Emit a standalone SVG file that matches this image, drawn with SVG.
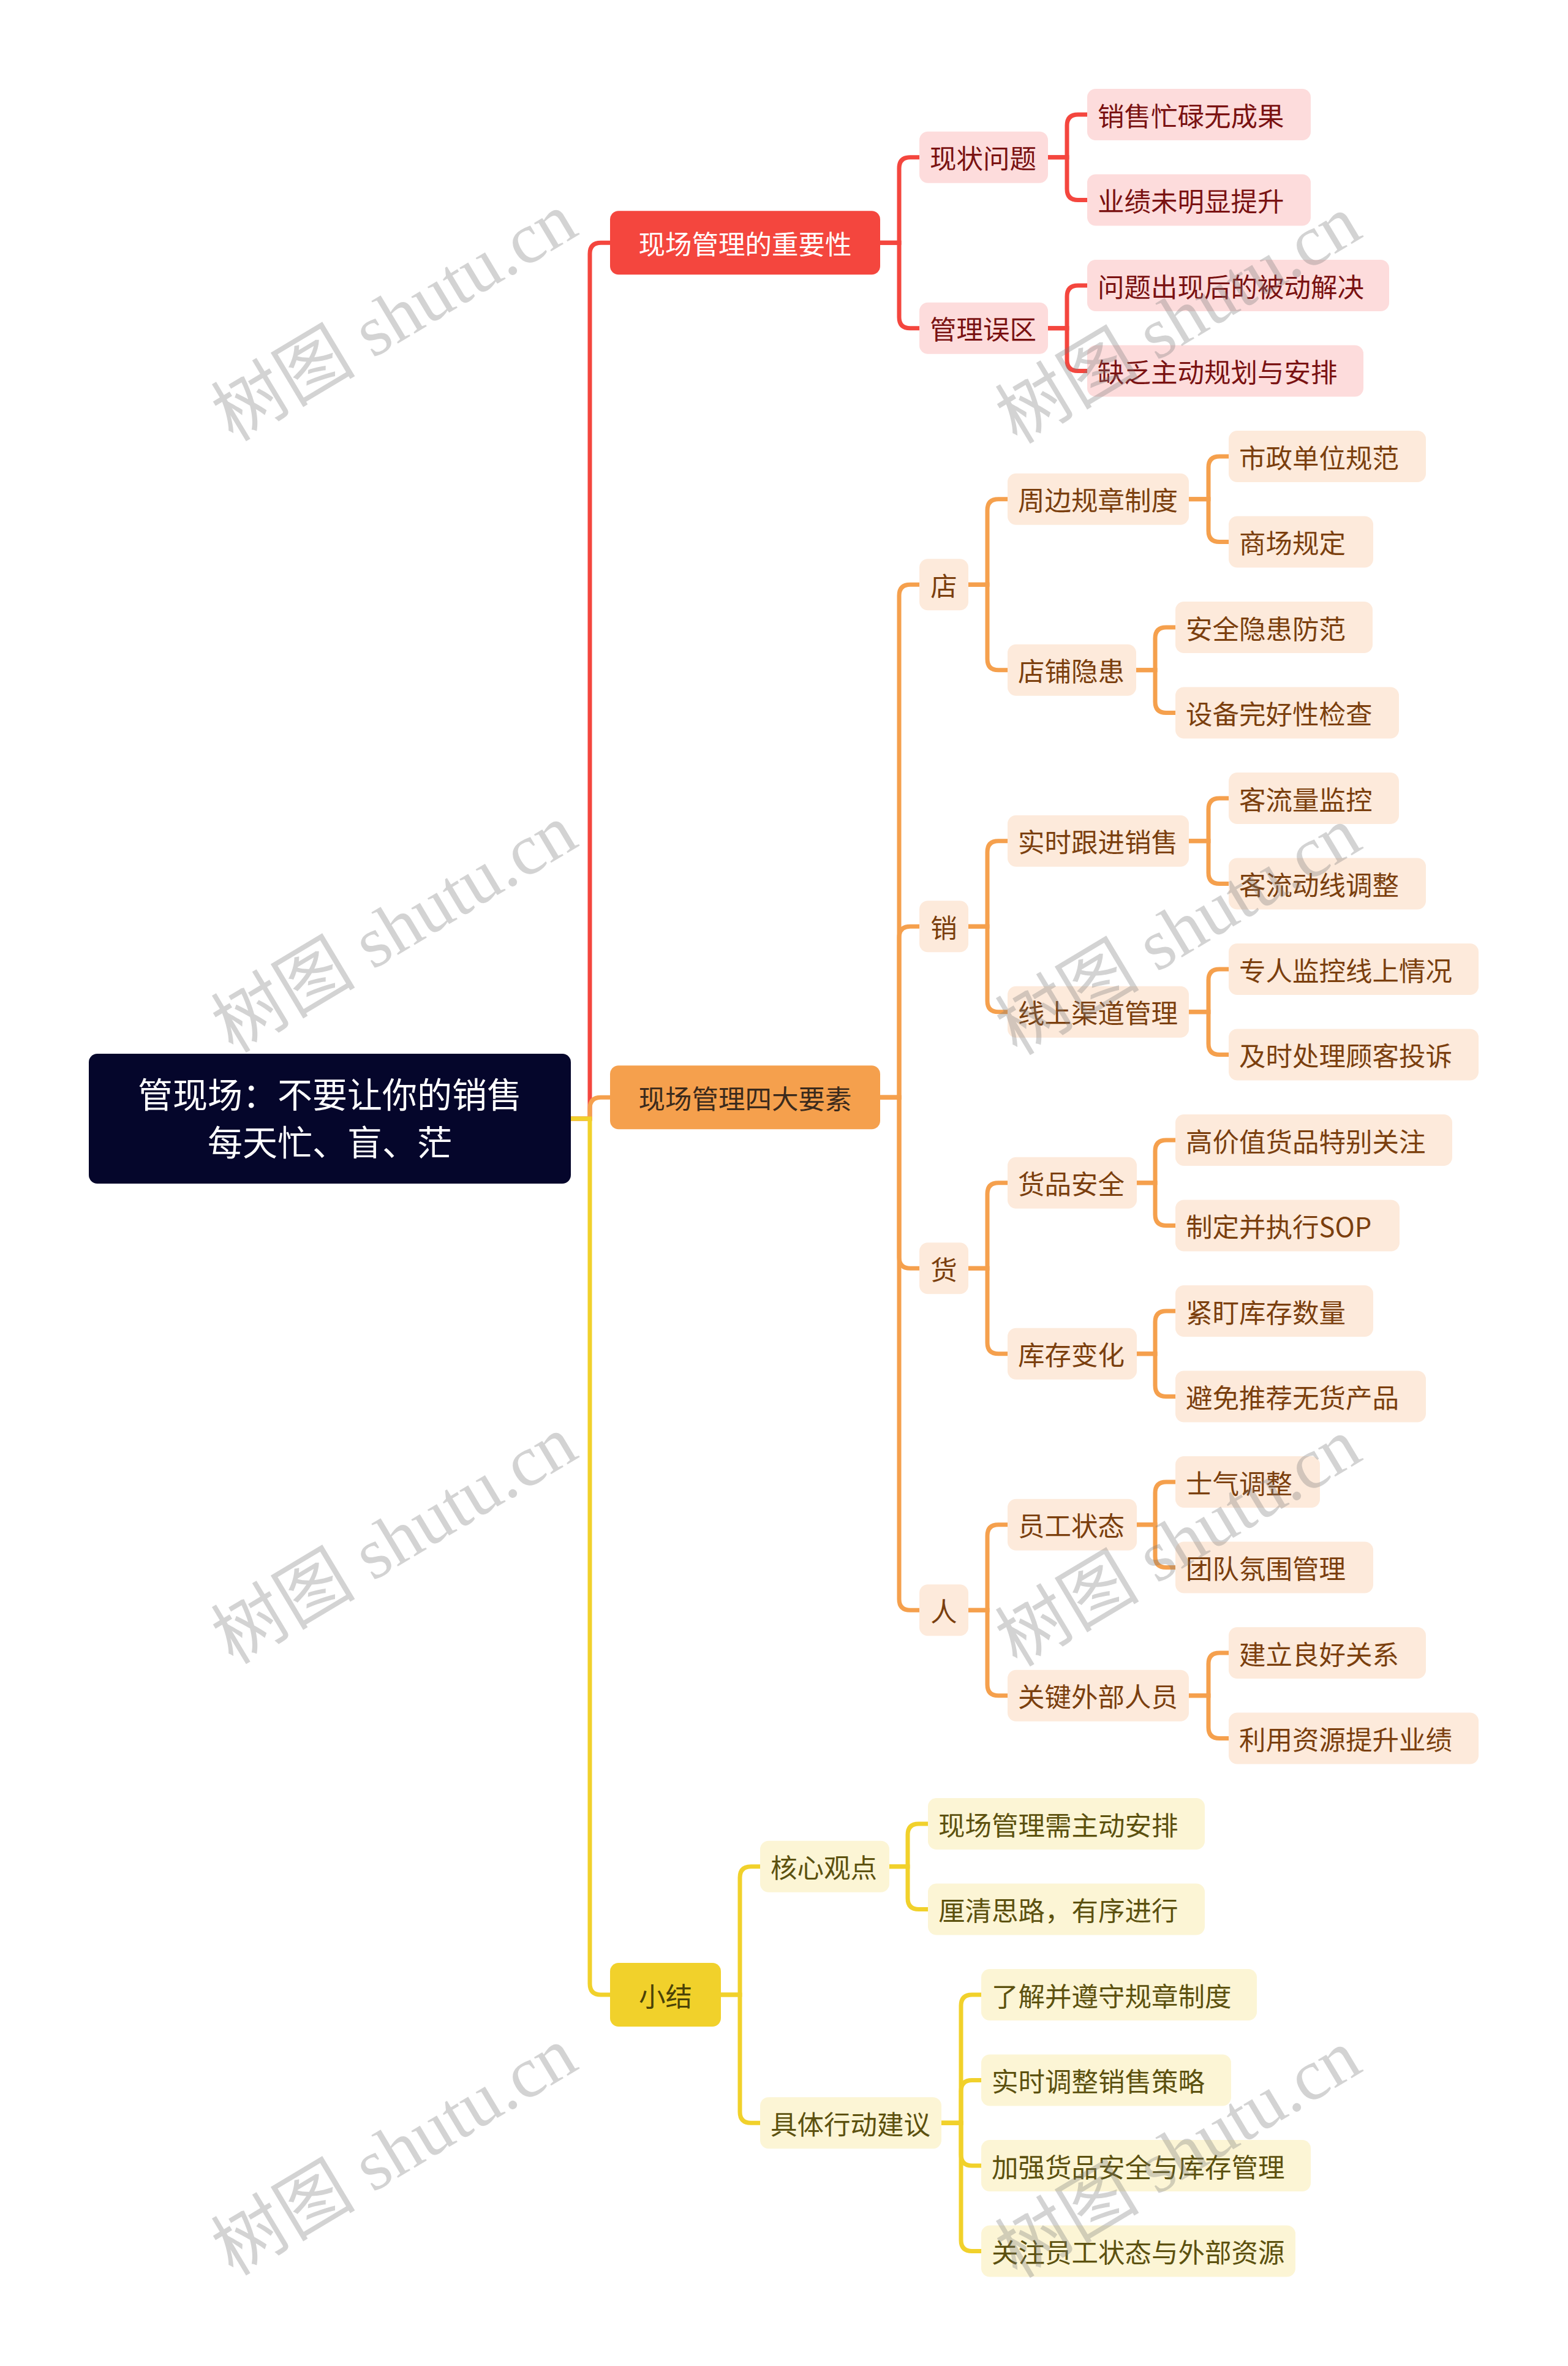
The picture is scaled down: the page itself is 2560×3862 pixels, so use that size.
<svg xmlns="http://www.w3.org/2000/svg" width="2560" height="3862" viewBox="0 0 2560 3862">
<style>
text{font-family:"Noto Sans CJK SC","Noto Sans",sans-serif;font-size:43.5px;dominant-baseline:central}
.root rect{fill:#05062B}
.root text{fill:#FFFFFF;font-size:57px;text-anchor:middle}
.r1 rect{fill:#F4463E}
.r1 text{fill:#FFFFFF;text-anchor:middle}
.r2 rect{fill:#FDDCDC}
.r2 text{fill:#7A1212}
.o1 rect{fill:#F5A04D}
.o1 text{fill:#3B2A1C;text-anchor:middle}
.o2 rect{fill:#FDEADB}
.o2 text{fill:#7B3F0E}
.oc text{text-anchor:middle}
.y1 rect{fill:#F1D12B}
.y1 text{fill:#4B4207;text-anchor:middle}
.y2 rect{fill:#FCF5D5}
.y2 text{fill:#5C510F}
.cr{fill:none;stroke:#F4463E;stroke-width:7}
.co{fill:none;stroke:#F5A04D;stroke-width:7}
.cy{fill:none;stroke:#F1D12B;stroke-width:7}
.wm{font-family:"Liberation Serif","Noto Sans CJK SC",serif;font-size:118px;fill:#7a7a7a;opacity:0.32;text-anchor:middle;dominant-baseline:central}
</style>
<rect x="0" y="0" width="2560" height="3862" fill="#FFFFFF"/>
<g id="connectors">
<path class="cr" d="M932,1826 H963 V414.25 Q963,396.25 981,396.25 H996"/>
<path class="co" d="M932,1826 H963 V1809.25 Q963,1791.25 981,1791.25 H996"/>
<path class="cy" d="M932,1826 H963 V3238 Q963,3256 981,3256 H996"/>
<path class="cr" d="M1437,396.25 H1468 V274.75 Q1468,256.75 1486,256.75 H1501"/>
<path class="cr" d="M1437,396.25 H1468 V517.75 Q1468,535.75 1486,535.75 H1501"/>
<path class="cr" d="M1711,256.75 H1742 V205 Q1742,187 1760,187 H1775"/>
<path class="cr" d="M1711,256.75 H1742 V308.5 Q1742,326.5 1760,326.5 H1775"/>
<path class="cr" d="M1711,535.75 H1742 V484 Q1742,466 1760,466 H1775"/>
<path class="cr" d="M1711,535.75 H1742 V587.5 Q1742,605.5 1760,605.5 H1775"/>
<path class="co" d="M1437,1791.25 H1468 V972.25 Q1468,954.25 1486,954.25 H1501"/>
<path class="co" d="M1437,1791.25 H1468 V1530.25 Q1468,1512.25 1486,1512.25 H1501"/>
<path class="co" d="M1437,1791.25 H1468 V2052.25 Q1468,2070.25 1486,2070.25 H1501"/>
<path class="co" d="M1437,1791.25 H1468 V2610.25 Q1468,2628.25 1486,2628.25 H1501"/>
<path class="co" d="M1581,954.25 H1612 V832.75 Q1612,814.75 1630,814.75 H1645"/>
<path class="co" d="M1581,954.25 H1612 V1075.75 Q1612,1093.75 1630,1093.75 H1645"/>
<path class="co" d="M1941,814.75 H1973 V763 Q1973,745 1991,745 H2006"/>
<path class="co" d="M1941,814.75 H1973 V866.5 Q1973,884.5 1991,884.5 H2006"/>
<path class="co" d="M1855,1093.75 H1886 V1042 Q1886,1024 1904,1024 H1919"/>
<path class="co" d="M1855,1093.75 H1886 V1145.5 Q1886,1163.5 1904,1163.5 H1919"/>
<path class="co" d="M1581,1512.25 H1612 V1390.75 Q1612,1372.75 1630,1372.75 H1645"/>
<path class="co" d="M1581,1512.25 H1612 V1633.75 Q1612,1651.75 1630,1651.75 H1645"/>
<path class="co" d="M1941,1372.75 H1973 V1321 Q1973,1303 1991,1303 H2006"/>
<path class="co" d="M1941,1372.75 H1973 V1424.5 Q1973,1442.5 1991,1442.5 H2006"/>
<path class="co" d="M1941,1651.75 H1973 V1600 Q1973,1582 1991,1582 H2006"/>
<path class="co" d="M1941,1651.75 H1973 V1703.5 Q1973,1721.5 1991,1721.5 H2006"/>
<path class="co" d="M1581,2070.25 H1612 V1948.75 Q1612,1930.75 1630,1930.75 H1645"/>
<path class="co" d="M1581,2070.25 H1612 V2191.75 Q1612,2209.75 1630,2209.75 H1645"/>
<path class="co" d="M1856,1930.75 H1886 V1879 Q1886,1861 1904,1861 H1919"/>
<path class="co" d="M1856,1930.75 H1886 V1982.5 Q1886,2000.5 1904,2000.5 H1919"/>
<path class="co" d="M1856,2209.75 H1886 V2158 Q1886,2140 1904,2140 H1919"/>
<path class="co" d="M1856,2209.75 H1886 V2261.5 Q1886,2279.5 1904,2279.5 H1919"/>
<path class="co" d="M1581,2628.25 H1612 V2506.75 Q1612,2488.75 1630,2488.75 H1645"/>
<path class="co" d="M1581,2628.25 H1612 V2749.75 Q1612,2767.75 1630,2767.75 H1645"/>
<path class="co" d="M1856,2488.75 H1886 V2437 Q1886,2419 1904,2419 H1919"/>
<path class="co" d="M1856,2488.75 H1886 V2540.5 Q1886,2558.5 1904,2558.5 H1919"/>
<path class="co" d="M1941,2767.75 H1973 V2716 Q1973,2698 1991,2698 H2006"/>
<path class="co" d="M1941,2767.75 H1973 V2819.5 Q1973,2837.5 1991,2837.5 H2006"/>
<path class="cy" d="M1177,3256 H1208 V3064.75 Q1208,3046.75 1226,3046.75 H1241"/>
<path class="cy" d="M1177,3256 H1208 V3447.25 Q1208,3465.25 1226,3465.25 H1241"/>
<path class="cy" d="M1452,3046.75 H1482 V2995 Q1482,2977 1500,2977 H1515"/>
<path class="cy" d="M1452,3046.75 H1482 V3098.5 Q1482,3116.5 1500,3116.5 H1515"/>
<path class="cy" d="M1537,3465.25 H1569 V3274 Q1569,3256 1587,3256 H1602"/>
<path class="cy" d="M1537,3465.25 H1569 V3413.5 Q1569,3395.5 1587,3395.5 H1602"/>
<path class="cy" d="M1537,3465.25 H1569 V3517 Q1569,3535 1587,3535 H1602"/>
<path class="cy" d="M1537,3465.25 H1569 V3656.5 Q1569,3674.5 1587,3674.5 H1602"/>
</g>
<g id="root" class="root"><rect x="145" y="1720" width="787" height="212" rx="14"/><text x="538.5" y="1783">管现场：不要让你的销售</text><text x="538.5" y="1861">每天忙、盲、茫</text></g>
<g id="n-importance" class="r1"><rect x="996" y="344.25" width="441" height="104" rx="14"/><text x="1216.5" y="396.25">现场管理的重要性</text></g>
<g id="n-status" class="r2"><rect x="1501" y="214.75" width="210" height="84" rx="14"/><text x="1518" y="256.75">现状问题</text></g>
<g id="n-l0" class="r2"><rect x="1775" y="145" width="365" height="84" rx="14"/><text x="1792" y="187">销售忙碌无成果</text></g>
<g id="n-l1" class="r2"><rect x="1775" y="284.5" width="365" height="84" rx="14"/><text x="1792" y="326.5">业绩未明显提升</text></g>
<g id="n-mistake" class="r2"><rect x="1501" y="493.75" width="210" height="84" rx="14"/><text x="1518" y="535.75">管理误区</text></g>
<g id="n-l2" class="r2"><rect x="1775" y="424" width="493" height="84" rx="14"/><text x="1792" y="466">问题出现后的被动解决</text></g>
<g id="n-l3" class="r2"><rect x="1775" y="563.5" width="451" height="84" rx="14"/><text x="1792" y="605.5">缺乏主动规划与安排</text></g>
<g id="n-four" class="o1"><rect x="996" y="1739.25" width="441" height="104" rx="14"/><text x="1216.5" y="1791.25">现场管理四大要素</text></g>
<g id="n-dian" class="o2 oc"><rect x="1501" y="912.25" width="80" height="84" rx="14"/><text x="1541" y="954.25">店</text></g>
<g id="n-zhoubian" class="o2"><rect x="1645" y="772.75" width="296" height="84" rx="14"/><text x="1662" y="814.75">周边规章制度</text></g>
<g id="n-l4" class="o2"><rect x="2006" y="703" width="322" height="84" rx="14"/><text x="2023" y="745">市政单位规范</text></g>
<g id="n-l5" class="o2"><rect x="2006" y="842.5" width="236" height="84" rx="14"/><text x="2023" y="884.5">商场规定</text></g>
<g id="n-yinhuan" class="o2"><rect x="1645" y="1051.75" width="210" height="84" rx="14"/><text x="1662" y="1093.75">店铺隐患</text></g>
<g id="n-l6" class="o2"><rect x="1919" y="982" width="322" height="84" rx="14"/><text x="1936" y="1024">安全隐患防范</text></g>
<g id="n-l7" class="o2"><rect x="1919" y="1121.5" width="365" height="84" rx="14"/><text x="1936" y="1163.5">设备完好性检查</text></g>
<g id="n-xiao" class="o2 oc"><rect x="1501" y="1470.25" width="80" height="84" rx="14"/><text x="1541" y="1512.25">销</text></g>
<g id="n-shishi" class="o2"><rect x="1645" y="1330.75" width="296" height="84" rx="14"/><text x="1662" y="1372.75">实时跟进销售</text></g>
<g id="n-l8" class="o2"><rect x="2006" y="1261" width="278" height="84" rx="14"/><text x="2023" y="1303">客流量监控</text></g>
<g id="n-l9" class="o2"><rect x="2006" y="1400.5" width="322" height="84" rx="14"/><text x="2023" y="1442.5">客流动线调整</text></g>
<g id="n-xianshang" class="o2"><rect x="1645" y="1609.75" width="296" height="84" rx="14"/><text x="1662" y="1651.75">线上渠道管理</text></g>
<g id="n-l10" class="o2"><rect x="2006" y="1540" width="408" height="84" rx="14"/><text x="2023" y="1582">专人监控线上情况</text></g>
<g id="n-l11" class="o2"><rect x="2006" y="1679.5" width="408" height="84" rx="14"/><text x="2023" y="1721.5">及时处理顾客投诉</text></g>
<g id="n-huo" class="o2 oc"><rect x="1501" y="2028.25" width="80" height="84" rx="14"/><text x="1541" y="2070.25">货</text></g>
<g id="n-huopin" class="o2"><rect x="1645" y="1888.75" width="211" height="84" rx="14"/><text x="1662" y="1930.75">货品安全</text></g>
<g id="n-l12" class="o2"><rect x="1919" y="1819" width="452" height="84" rx="14"/><text x="1936" y="1861">高价值货品特别关注</text></g>
<g id="n-l13" class="o2"><rect x="1919" y="1958.5" width="366" height="84" rx="14"/><text x="1936" y="2000.5">制定并执行SOP</text></g>
<g id="n-kucun" class="o2"><rect x="1645" y="2167.75" width="211" height="84" rx="14"/><text x="1662" y="2209.75">库存变化</text></g>
<g id="n-l14" class="o2"><rect x="1919" y="2098" width="323" height="84" rx="14"/><text x="1936" y="2140">紧盯库存数量</text></g>
<g id="n-l15" class="o2"><rect x="1919" y="2237.5" width="409" height="84" rx="14"/><text x="1936" y="2279.5">避免推荐无货产品</text></g>
<g id="n-ren" class="o2 oc"><rect x="1501" y="2586.25" width="80" height="84" rx="14"/><text x="1541" y="2628.25">人</text></g>
<g id="n-yuangong" class="o2"><rect x="1645" y="2446.75" width="211" height="84" rx="14"/><text x="1662" y="2488.75">员工状态</text></g>
<g id="n-l16" class="o2"><rect x="1919" y="2377" width="236" height="84" rx="14"/><text x="1936" y="2419">士气调整</text></g>
<g id="n-l17" class="o2"><rect x="1919" y="2516.5" width="323" height="84" rx="14"/><text x="1936" y="2558.5">团队氛围管理</text></g>
<g id="n-guanjian" class="o2"><rect x="1645" y="2725.75" width="296" height="84" rx="14"/><text x="1662" y="2767.75">关键外部人员</text></g>
<g id="n-l18" class="o2"><rect x="2006" y="2656" width="322" height="84" rx="14"/><text x="2023" y="2698">建立良好关系</text></g>
<g id="n-l19" class="o2"><rect x="2006" y="2795.5" width="408" height="84" rx="14"/><text x="2023" y="2837.5">利用资源提升业绩</text></g>
<g id="n-summary" class="y1"><rect x="996" y="3204" width="181" height="104" rx="14"/><text x="1086.5" y="3256">小结</text></g>
<g id="n-core" class="y2"><rect x="1241" y="3004.75" width="211" height="84" rx="14"/><text x="1258" y="3046.75">核心观点</text></g>
<g id="n-l20" class="y2"><rect x="1515" y="2935" width="452" height="84" rx="14"/><text x="1532" y="2977">现场管理需主动安排</text></g>
<g id="n-l21" class="y2"><rect x="1515" y="3074.5" width="452" height="84" rx="14"/><text x="1532" y="3116.5">厘清思路，有序进行</text></g>
<g id="n-action" class="y2"><rect x="1241" y="3423.25" width="296" height="84" rx="14"/><text x="1258" y="3465.25">具体行动建议</text></g>
<g id="n-l22" class="y2"><rect x="1602" y="3214" width="450" height="84" rx="14"/><text x="1619" y="3256">了解并遵守规章制度</text></g>
<g id="n-l23" class="y2"><rect x="1602" y="3353.5" width="408" height="84" rx="14"/><text x="1619" y="3395.5">实时调整销售策略</text></g>
<g id="n-l24" class="y2"><rect x="1602" y="3493" width="538" height="84" rx="14"/><text x="1619" y="3535">加强货品安全与库存管理</text></g>
<g id="n-l25" class="y2"><rect x="1602" y="3632.5" width="513" height="84" rx="14"/><text x="1619" y="3674.5">关注员工状态与外部资源</text></g>
<g id="watermarks">
<text class="wm" x="644" y="518" transform="rotate(-31 644 518)">树图 shutu.cn</text>
<text class="wm" x="1924" y="522" transform="rotate(-31 1924 522)">树图 shutu.cn</text>
<text class="wm" x="644" y="1516" transform="rotate(-31 644 1516)">树图 shutu.cn</text>
<text class="wm" x="1924" y="1520" transform="rotate(-31 1924 1520)">树图 shutu.cn</text>
<text class="wm" x="644" y="2514" transform="rotate(-31 644 2514)">树图 shutu.cn</text>
<text class="wm" x="1924" y="2518" transform="rotate(-31 1924 2518)">树图 shutu.cn</text>
<text class="wm" x="644" y="3512" transform="rotate(-31 644 3512)">树图 shutu.cn</text>
<text class="wm" x="1924" y="3516" transform="rotate(-31 1924 3516)">树图 shutu.cn</text>
</g>
</svg>
